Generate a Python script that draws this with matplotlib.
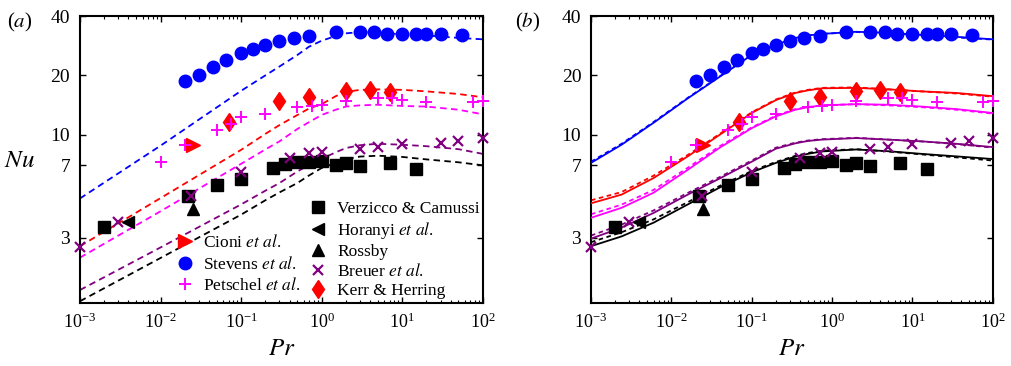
import numpy as np
import matplotlib
matplotlib.use('Agg')
import matplotlib.pyplot as plt
from matplotlib.ticker import FixedLocator, FixedFormatter, LogLocator, NullLocator, NullFormatter

plt.rcParams['font.family'] = ['Liberation Serif', 'DejaVu Serif']
plt.rcParams['mathtext.fontset'] = 'stix'

# ---- data points (same in both panels) ----
stevens_pr = [0.02, 0.03, 0.045, 0.065, 0.1, 0.14, 0.2, 0.3, 0.45, 0.7, 1.5, 3, 4.5, 6.5, 10, 15, 20, 30, 55]
stevens_nu = [18.8, 20.1, 22.2, 23.9, 25.9, 27.2, 28.4, 30.0, 31.1, 31.7, 33.1, 33.2, 33.1, 32.6, 32.3, 32.4, 32.4, 32.3, 31.9]
kerr_pr = [0.07, 0.3, 0.7, 2, 4, 7]
kerr_nu = [11.6, 14.9, 15.5, 16.75, 16.8, 16.4]
cioni_pr = [0.025]
cioni_nu = [8.9]
petschel_pr = [0.01, 0.02, 0.05, 0.075, 0.1, 0.2, 0.5, 0.75, 1, 2, 5, 7.5, 10, 20, 75, 100]
petschel_nu = [7.27, 8.9, 10.6, 11.4, 12.3, 12.8, 13.8, 14.0, 14.2, 14.8, 15.3, 15.3, 15.0, 14.6, 14.7, 14.85]
verz_pr = [0.002, 0.022, 0.05, 0.1, 0.25, 0.35, 0.5, 0.7, 1, 1.5, 2, 3, 7, 15]
verz_nu = [3.40, 4.91, 5.54, 5.97, 6.78, 7.08, 7.27, 7.27, 7.33, 7.02, 7.16, 6.94, 7.16, 6.70]
horanyi_pr = [0.004]
horanyi_nu = [3.6]
rossby_pr = [0.025]
rossby_nu = [4.2]
breuer_pr = [0.001, 0.003, 0.024, 0.1, 0.4, 0.7, 1, 3, 5, 10, 30, 50, 100]
breuer_nu = [2.69, 3.60, 4.88, 6.45, 7.58, 8.07, 8.20, 8.46, 8.63, 9.0, 9.07, 9.32, 9.62]

# ---- model curves, panel (a) ----
pr_a = [0.001, 0.01, 0.1, 0.2, 0.3, 0.5, 0.7, 1, 1.5, 2, 3, 5, 10, 20, 50, 100]
blue_a = [4.75, 8.8, 16.7, 20.0, 22.2, 25.4, 28.0, 30.0, 31.7, 32.7, 33.2, 33.0, 32.3, 31.9, 31.0, 30.5]
red_a = [2.72, 4.77, 8.38, 10.1, 11.2, 12.6, 13.6, 14.3, 15.7, 16.5, 16.9, 17.0, 16.9, 16.6, 16.1, 15.5]
mag_a = [2.38, 4.09, 7.12, 8.42, 9.26, 10.7, 11.6, 12.6, 13.4, 13.9, 14.1, 14.2, 14.0, 13.9, 13.4, 12.7]
pur_a = [1.63, 2.68, 4.43, 5.2, 5.69, 6.51, 7.04, 7.55, 8.15, 8.56, 8.85, 9.0, 8.9, 8.75, 8.45, 8.0]
blk_a = [1.43, 2.37, 3.93, 4.65, 5.10, 5.69, 6.22, 6.78, 7.19, 7.53, 7.75, 7.83, 7.72, 7.5, 7.25, 7.0]

# ---- model curves, panel (b): solid and dashed ----
pr_b = [0.001, 0.0024, 0.006, 0.016, 0.04, 0.1, 0.2, 0.35, 0.5, 0.75, 2, 5, 13, 35, 100]
blue_b = [7.2, 8.9, 11.5, 15.3, 19.7, 25.4, 28.6, 31.0, 31.9, 32.5, 33.3, 32.9, 32.1, 31.4, 30.5]
blue_b_d = [7.3, 9.0, 11.6, 15.4, 19.8, 25.4, 28.6, 31.0, 31.9, 32.5, 33.2, 32.8, 32.0, 31.2, 30.4]
red_b = [4.49, 4.97, 6.03, 7.77, 10.0, 12.9, 15.0, 16.3, 16.8, 17.2, 17.3, 17.0, 16.6, 16.3, 15.7]
red_b_d = [4.65, 5.12, 6.2, 7.9, 10.1, 13.0, 15.1, 16.4, 16.9, 17.3, 17.4, 17.0, 16.6, 16.2, 15.6]
mag_b = [3.79, 4.26, 5.08, 6.64, 8.6, 10.8, 12.4, 13.4, 13.8, 14.1, 14.3, 14.2, 13.9, 13.5, 12.9]
mag_b_d = [3.95, 4.42, 5.25, 6.8, 8.75, 10.9, 12.5, 13.5, 13.8, 14.1, 14.3, 14.1, 13.8, 13.4, 12.8]
pur_b = [2.97, 3.38, 4.01, 4.97, 6.0, 7.3, 8.5, 9.05, 9.3, 9.45, 9.62, 9.45, 9.26, 9.0, 8.66]
pur_b_d = [3.08, 3.5, 4.13, 5.07, 6.1, 7.4, 8.6, 9.12, 9.35, 9.5, 9.65, 9.45, 9.25, 8.98, 8.6]
blk_b = [2.72, 3.05, 3.58, 4.43, 5.4, 6.45, 7.2, 7.75, 8.0, 8.23, 8.42, 8.25, 8.0, 7.77, 7.53]
blk_b_d = [2.85, 3.2, 3.72, 4.55, 5.5, 6.55, 7.28, 7.82, 8.08, 8.3, 8.45, 8.22, 7.95, 7.68, 7.4]

yticks = [3, 7, 10, 20, 40]
ytick_labels = ['3', '7', '10', '20', '40']

BLUE = '#0000ff'
RED = '#ff0000'
MAG = '#ff00ff'
PUR = '#800080'
BLK = '#000000'

series = [
    ('Verzicco & Camussi', verz_pr, verz_nu, dict(marker='s', color=BLK, ms=8)),
    ('Horanyi $\\mathit{et\\ al}$.', horanyi_pr, horanyi_nu, dict(marker='<', color=BLK, ms=9)),
    ('Rossby', rossby_pr, rossby_nu, dict(marker='^', color=BLK, ms=9)),
    ('Breuer $\\mathit{et\\ al}$.', breuer_pr, breuer_nu, dict(marker='x', color=PUR, ms=7, mew=1.6)),
    ('Kerr & Herring', kerr_pr, kerr_nu, dict(marker='d', color=RED, ms=9.5)),
    ('Cioni $\\mathit{et\\ al}$.', cioni_pr, cioni_nu, dict(marker='>', color=RED, ms=9.5)),
    ('Stevens $\\mathit{et\\ al}$.', stevens_pr, stevens_nu, dict(marker='o', color=BLUE, ms=9)),
    ('Petschel $\\mathit{et\\ al}$.', petschel_pr, petschel_nu, dict(marker='+', color=MAG, ms=9, mew=1.4)),
]


def style_axes(ax):
    ax.set_xscale('log')
    ax.set_yscale('log')
    ax.set_xlim(1e-3, 1e2)
    ax.set_ylim(1.4, 40)
    ax.yaxis.set_major_locator(FixedLocator(yticks))
    ax.yaxis.set_major_formatter(FixedFormatter(ytick_labels))
    ax.yaxis.set_minor_locator(NullLocator())
    ax.xaxis.set_major_locator(LogLocator(10, numticks=10))
    ax.xaxis.set_minor_locator(LogLocator(10, subs=np.arange(2, 10), numticks=10))
    ax.xaxis.set_minor_formatter(NullFormatter())
    ax.tick_params(which='both', direction='in', top=True, right=True, labelsize=13)
    ax.tick_params(axis='y', labelsize=14)
    ax.tick_params(which='major', length=4, width=1, pad=7)
    ax.tick_params(which='minor', length=2.2, width=0.8)
    for s in ax.spines.values():
        s.set_linewidth(1.5)
    ax.set_xlabel('$Pr$', fontsize=18, labelpad=4)


def draw_points(ax):
    handles = {}
    for label, x, y, kw in series:
        opts = {k: v for k, v in kw.items() if k != 'color'}
        h, = ax.plot(x, y, linestyle='none', clip_on=False, zorder=5,
                     markeredgecolor=kw['color'], markerfacecolor=kw['color'],
                     label=label, **opts)
        handles[label] = h
    return handles


fig = plt.figure(figsize=(10.12, 3.66), dpi=100)
ax_a = fig.add_axes([0.079, 0.172, 0.398, 0.784])
ax_b = fig.add_axes([0.584, 0.172, 0.397, 0.784])

for vals, c in [(blue_a, BLUE), (red_a, RED), (mag_a, MAG), (pur_a, PUR), (blk_a, BLK)]:
    ax_a.plot(pr_a, vals, color=c, lw=1.3, dashes=(3.6, 2.4), zorder=2)

for solid, dashed, c in [(blue_b, blue_b_d, BLUE), (red_b, red_b_d, RED), (mag_b, mag_b_d, MAG),
                         (pur_b, pur_b_d, PUR), (blk_b, blk_b_d, BLK)]:
    ax_b.plot(pr_b, dashed, color=c, lw=1.3, dashes=(2.5, 2.0), zorder=2)
    ax_b.plot(pr_b, solid, color=c, lw=1.3, zorder=3)

h = draw_points(ax_a)
draw_points(ax_b)

for ax in (ax_a, ax_b):
    style_axes(ax)

ax_a.set_ylabel('$Nu$', fontsize=18, rotation=0, ha='center', va='center')
ax_a.yaxis.set_label_coords(-0.149, 0.495)

names = [s[0] for s in series]
leg1 = ax_a.legend([h[n] for n in names[5:]], names[5:], loc='upper left',
                   bbox_to_anchor=(0.1746, 0.36), bbox_transform=fig.transFigure,
                   frameon=False, borderpad=0, handlelength=1.0, handletextpad=0.5,
                   labelspacing=0.25, fontsize=12.5, borderaxespad=0)
ax_a.add_artist(leg1)
ax_a.legend([h[n] for n in names[:5]], names[:5], loc='upper left',
            bbox_to_anchor=(0.306, 0.452), bbox_transform=fig.transFigure,
            frameon=False, borderpad=0, handlelength=1.0, handletextpad=0.6,
            labelspacing=0.17, fontsize=12.5, borderaxespad=0)

fig.text(20 / 1012, 1 - 22 / 366, '($a$)', fontsize=15, ha='center', va='center')
fig.text(528 / 1012, 1 - 22 / 366, '($b$)', fontsize=15, ha='center', va='center')

fig.savefig('out.png', dpi=100)
